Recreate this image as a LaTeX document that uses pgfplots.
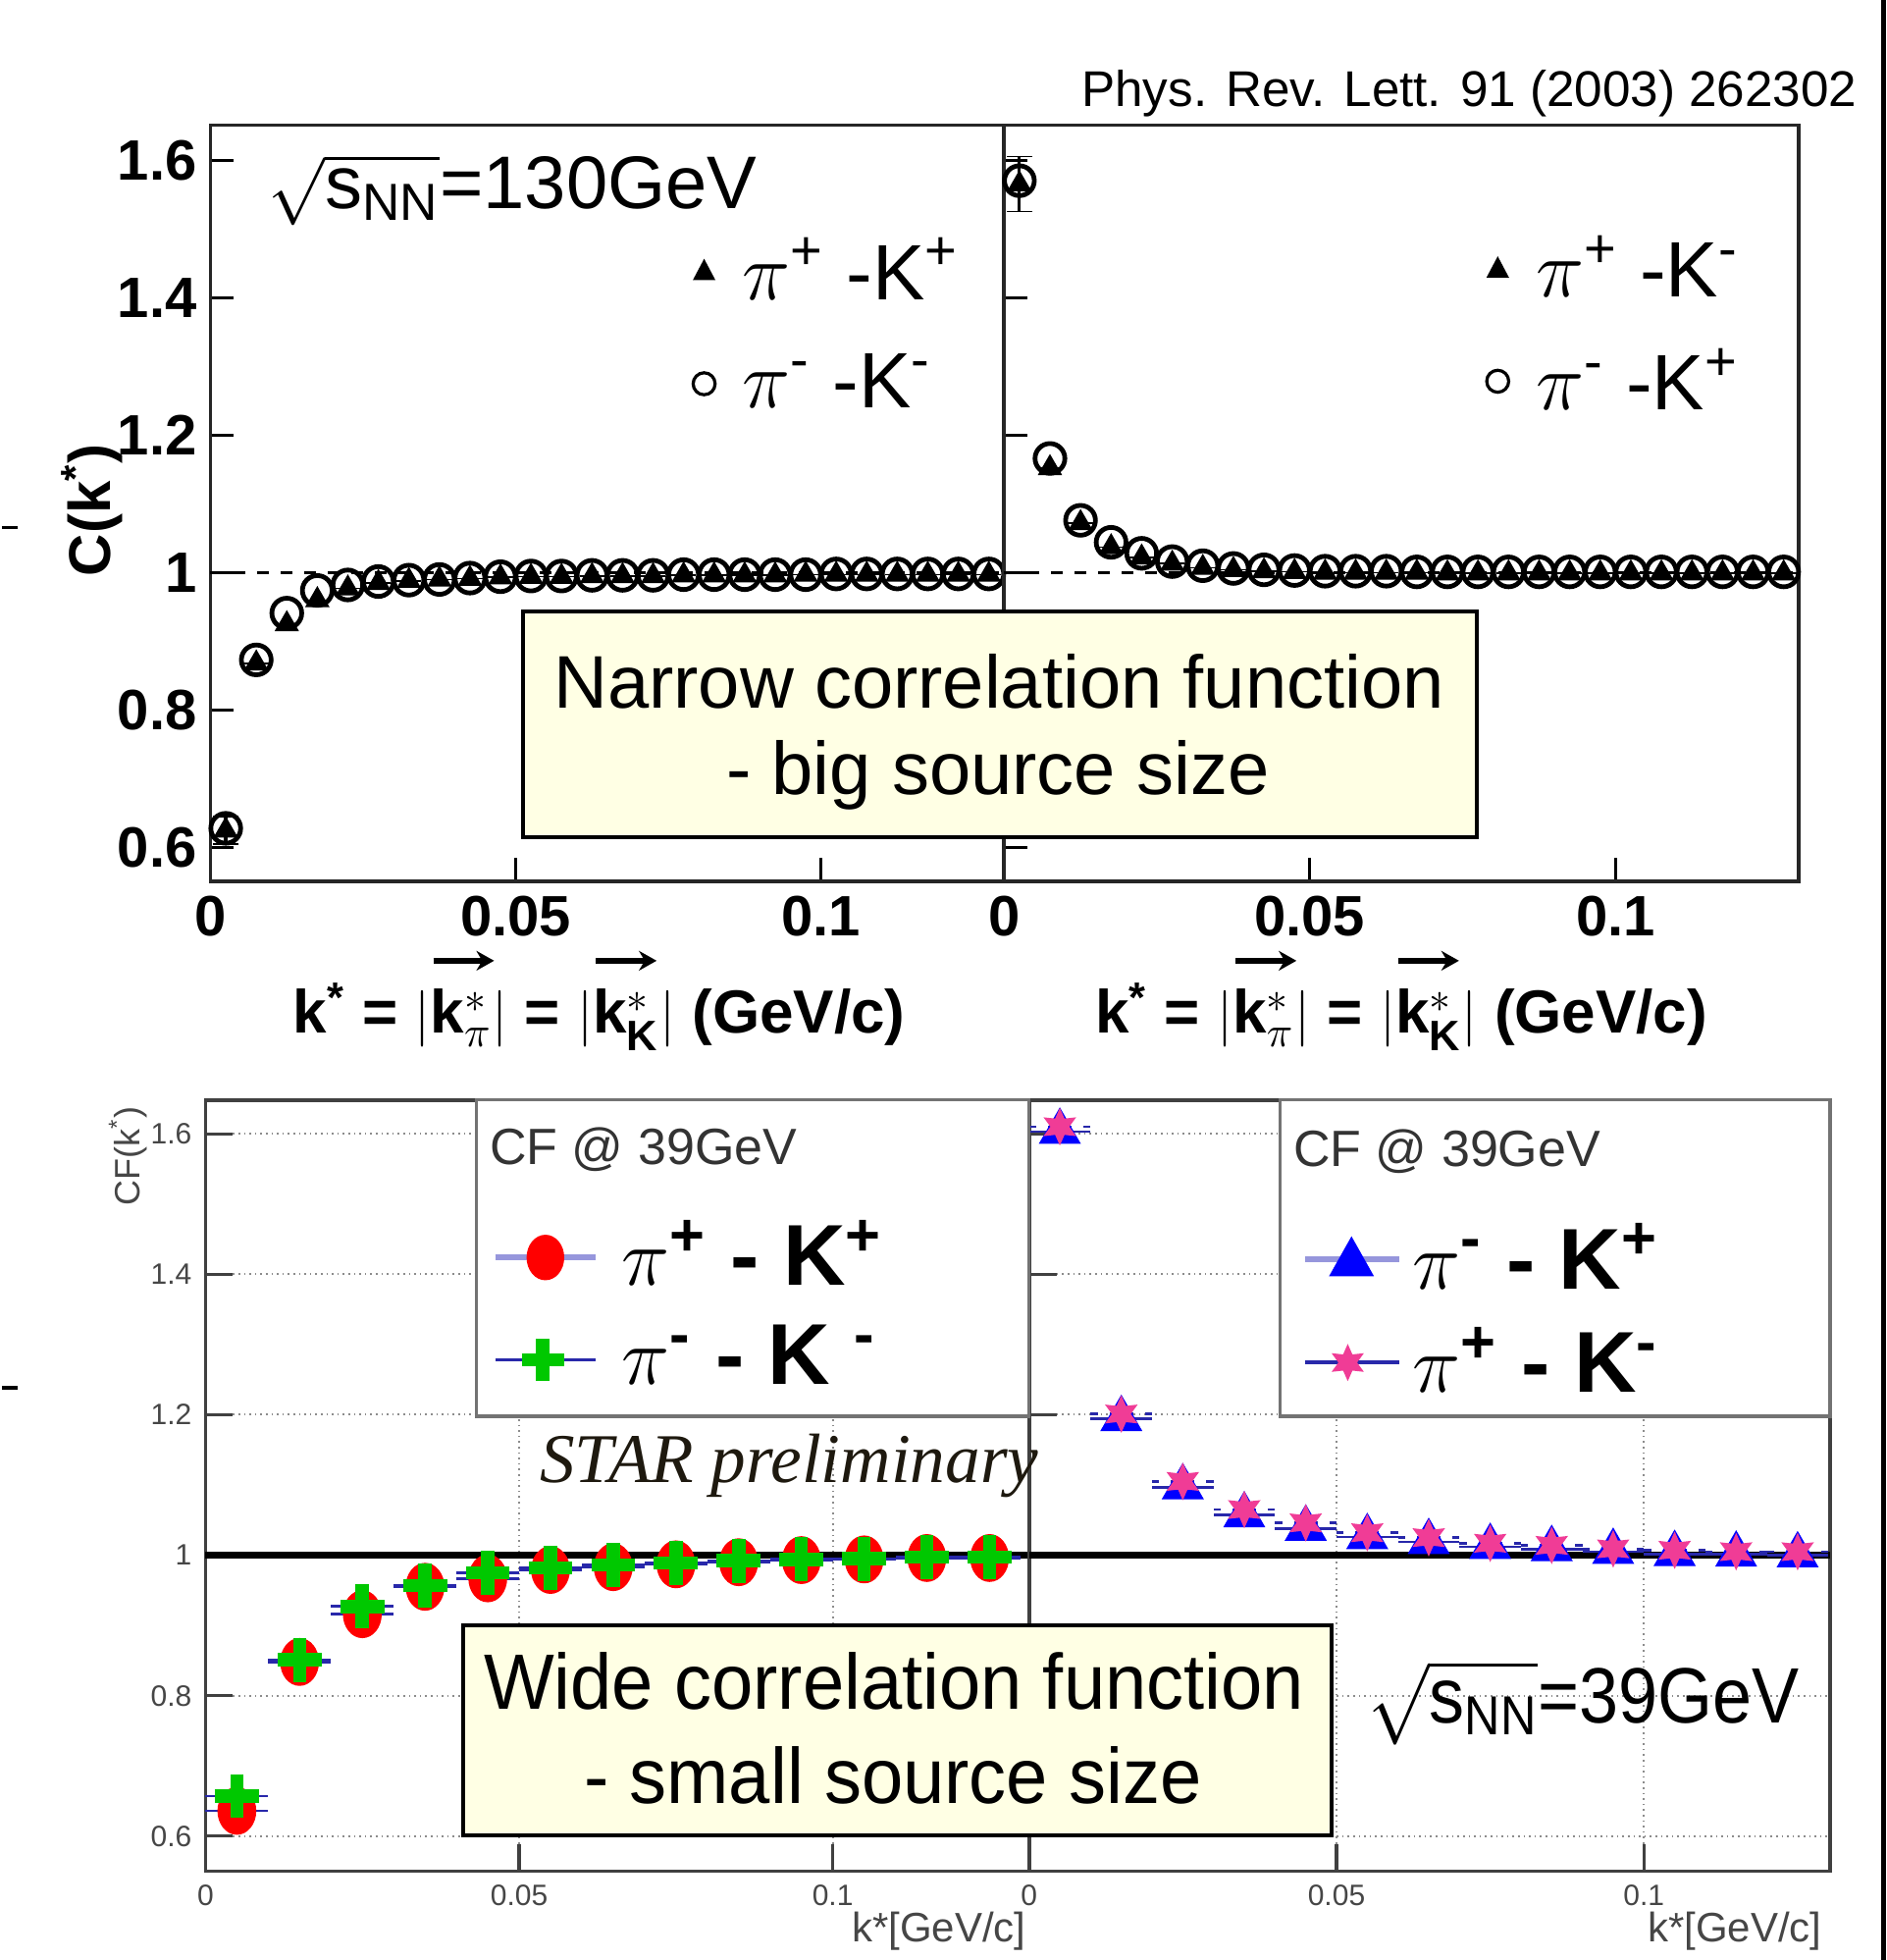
\documentclass[border=0pt]{standalone}
\usepackage{amsmath}
\usepackage{fontspec}
\setmainfont{Liberation Sans}
\newfontfamily\serifit{Liberation Serif}
\usepackage{pgfplots}
\pgfplotsset{compat=1.18}
\usetikzlibrary{shapes.geometric, arrows.meta}

\definecolor{boxyellow}{RGB}{255,255,228}
\definecolor{cfgreen}{RGB}{0,200,0}
\definecolor{cfpink}{RGB}{240,60,150}
\definecolor{legline}{RGB}{150,150,220}
\definecolor{errblue}{RGB}{40,40,170}
\definecolor{tickgray}{RGB}{70,70,70}

\pgfdeclareplotmark{hexstar}{%
  \pgfpathmoveto{\pgfpointpolar{90}{\pgfplotmarksize}}%
  \pgfpathlineto{\pgfpointpolar{120}{0.5\pgfplotmarksize}}%
  \pgfpathlineto{\pgfpointpolar{150}{\pgfplotmarksize}}%
  \pgfpathlineto{\pgfpointpolar{180}{0.5\pgfplotmarksize}}%
  \pgfpathlineto{\pgfpointpolar{210}{\pgfplotmarksize}}%
  \pgfpathlineto{\pgfpointpolar{240}{0.5\pgfplotmarksize}}%
  \pgfpathlineto{\pgfpointpolar{270}{\pgfplotmarksize}}%
  \pgfpathlineto{\pgfpointpolar{300}{0.5\pgfplotmarksize}}%
  \pgfpathlineto{\pgfpointpolar{330}{\pgfplotmarksize}}%
  \pgfpathlineto{\pgfpointpolar{0}{0.5\pgfplotmarksize}}%
  \pgfpathlineto{\pgfpointpolar{30}{\pgfplotmarksize}}%
  \pgfpathlineto{\pgfpointpolar{60}{0.5\pgfplotmarksize}}%
  \pgfpathclose\pgfusepathqfill}

\newcommand{\sps}[1]{\textsuperscript{#1}}
\newcommand{\arrowover}{\makebox[0pt][l]{\tikz[baseline=0pt]\draw[-{Stealth[length=4.5pt,width=5pt]}, line width=1.4pt] (0.05em,1.18em) -- (1.05em,1.18em);}}
\newcommand{\vk}[1]{\arrowover k$^{*}_{#1}$}

\pgfplotstableread{
x      tri    circ   err
0.0025 0.625  0.628  0.02
0.0075 0.868  0.873  0
0.0125 0.925  0.941  0
0.0175 0.960  0.974  0
0.0225 0.977  0.982  0
0.0275 0.985  0.987  0
0.0325 0.988  0.989  0
0.0375 0.990  0.990  0
0.0425 0.991  0.992  0
0.0475 0.993  0.994  0
0.0525 0.994  0.995  0
0.0575 0.994  0.995  0
0.0625 0.995  0.996  0
0.0675 0.995  0.996  0
0.0725 0.995  0.996  0
0.0775 0.996  0.997  0
0.0825 0.996  0.997  0
0.0875 0.996  0.997  0
0.0925 0.996  0.997  0
0.0975 0.997  0.997  0
0.1025 0.997  0.998  0
0.1075 0.997  0.998  0
0.1125 0.997  0.998  0
0.1175 0.997  0.998  0
0.1225 0.997  0.998  0
0.1275 0.997  0.998  0
}\topleft

\pgfplotstableread{
x      tri    circ   err
0.0025 1.565  1.570  0.04
0.0075 1.152  1.166  0
0.0125 1.072  1.076  0
0.0175 1.037  1.044  0
0.0225 1.022  1.028  0
0.0275 1.013  1.016  0
0.0325 1.007  1.010  0
0.0375 1.004  1.006  0
0.0425 1.002  1.004  0
0.0475 1.001  1.003  0
0.0525 1.000  1.002  0
0.0575 1.000  1.002  0
0.0625 1.000  1.002  0
0.0675 1.000  1.001  0
0.0725 0.999  1.001  0
0.0775 0.999  1.001  0
0.0825 0.999  1.001  0
0.0875 0.999  1.001  0
0.0925 0.999  1.001  0
0.0975 0.999  1.001  0
0.1025 0.999  1.001  0
0.1075 0.999  1.001  0
0.1125 0.999  1.001  0
0.1175 0.999  1.001  0
0.1225 0.999  1.001  0
0.1275 0.999  1.001  0
}\topright

\pgfplotstableread{
x     red    green
0.005 0.636  0.657
0.015 0.848  0.851
0.025 0.916  0.927
0.035 0.955  0.957
0.045 0.967  0.975
0.055 0.979  0.982
0.065 0.983  0.986
0.075 0.987  0.989
0.085 0.990  0.992
0.095 0.993  0.994
0.105 0.994  0.995
0.115 0.996  0.997
0.125 0.996  0.997
}\botleft

\pgfplotstableread{
x     tri    star
0.005 1.603  1.610
0.015 1.194  1.201
0.025 1.097  1.105
0.035 1.057  1.065
0.045 1.038  1.046
0.055 1.026  1.032
0.065 1.019  1.025
0.075 1.012  1.017
0.085 1.009  1.014
0.095 1.005  1.009
0.105 1.002  1.007
0.115 1.001  1.005
0.125 1.000  1.005
}\botright

\pgfplotsset{
  topstyle/.style={
    scale only axis, height=192.69pt,
    xmin=0, xmax=0.130, ymin=0.551, ymax=1.651,
    axis line style={black!85, line width=0.9pt},
    xtick={0,0.05,0.1}, xticklabels={0,0.05,0.1},
    ytick={0.6,0.8,1,1.2,1.4,1.6},
    tick align=inside, xtick pos=bottom, ytick pos=left,
    major tick length=6pt, tick style={black, line width=0.8pt},
    /pgf/number format/assume math mode=true,
    ticklabel style={font=\bfseries\fontsize{14.5}{15}\selectfont},
    xticklabel style={inner sep=0.5pt, yshift=-3pt},
    clip=false,
  },
  botstyle/.style={
    scale only axis, height=196.51pt,
    ymin=0.550, ymax=1.648,
    axis line style={black!75, line width=0.9pt},
    xtick={0,0.05,0.1}, xticklabels={0,0.05,0.1},
    ytick={0.6,0.8,1,1.2,1.4,1.6},
    grid=major, major grid style={densely dotted, black!45, line width=0.5pt},
    tick align=inside, xtick pos=bottom, ytick pos=left,
    major tick length=7pt, tick style={black!75, line width=0.8pt},
    /pgf/number format/assume math mode=true,
    ticklabel style={font=\fontsize{7.5}{8}\selectfont, text=tickgray},
    clip=false,
  },
}

\begin{document}
\begin{tikzpicture}
\begin{scope}[x=0.3185pt, y=-0.3185pt]
\path[use as bounding box] (0,0) rectangle (1508,1568);
\end{scope}

% ---------- top left
\begin{axis}[topstyle, at={(53.19pt,-224.54pt)}, anchor=south west, width=202.25pt,
  yticklabels={0.6,0.8,1,1.2,1.4,1.6}]
\addplot[black, dashed, line width=0.6pt] coordinates {(0,1) (0.130,1)};
\addplot[only marks, mark=o, mark size=3.8pt, mark options={line width=1.2pt, black}] table[x=x, y=circ] {\topleft};
\addplot[only marks, mark=triangle*, mark size=3.2pt, black,
  error bars/.cd, y dir=both, y explicit, error bar style={line width=0.8pt, black}]
  table[x=x, y=tri, y error=err] {\topleft};
\end{axis}

% ---------- top right
\begin{axis}[topstyle, at={(255.44pt,-224.54pt)}, anchor=south west, width=202.57pt,
  yticklabels={}]
\addplot[black, dashed, line width=0.6pt] coordinates {(0,1) (0.130,1)};
\addplot[only marks, mark=o, mark size=3.8pt, mark options={line width=1.2pt, black}] table[x=x, y=circ] {\topright};
\addplot[only marks, mark=triangle*, mark size=3.2pt, black,
  error bars/.cd, y dir=both, y explicit, error bar style={line width=0.8pt, black}]
  table[x=x, y=tri, y error=err] {\topright};
\end{axis}

% ---------- bottom left
\begin{axis}[botstyle, at={(51.92pt,-476.79pt)}, anchor=south west, width=209.89pt,
  xmin=0, xmax=0.1313, yticklabels={0.6,0.8,1,1.2,1.4,1.6}]
\addplot[black, line width=1.6pt] coordinates {(0,1) (0.1313,1)};
\addplot[only marks, mark=*, mark size=5pt, red, mark options={xscale=0.95, yscale=1.18},
  error bars/.cd, x dir=both, x fixed=0.005, error mark=none, error bar style={errblue, line width=0.7pt}]
  table[x=x, y=red] {\botleft};
\addplot[only marks, mark=+, mark size=5.6pt, cfgreen, mark options={line width=3.4pt},
  error bars/.cd, x dir=both, x fixed=0.005, error mark=none, error bar style={errblue, line width=0.7pt}]
  table[x=x, y=green] {\botleft};
\end{axis}

% ---------- bottom right
\begin{axis}[botstyle, at={(261.81pt,-476.79pt)}, anchor=south west, width=204.16pt,
  xmin=0, xmax=0.1303, yticklabels={}]
\addplot[black, line width=1.6pt] coordinates {(0,1) (0.1303,1)};
\addplot[only marks, mark=triangle*, mark size=5.8pt, blue,
  error bars/.cd, x dir=both, x fixed=0.005, error mark=none, error bar style={errblue, line width=0.7pt}]
  table[x=x, y=tri] {\botright};
\addplot[only marks, mark=hexstar, mark size=4.8pt, cfpink,
  error bars/.cd, x dir=both, x fixed=0.005, error mark=none, error bar style={errblue, dashed, line width=0.7pt}]
  table[x=x, y=star] {\botright};
\end{axis}

\begin{scope}[x=0.3185pt, y=-0.3185pt]
% right edge bar and left stray ticks
\fill[black] (1504,0) rectangle (1508,1568);
\draw[black, line width=0.9pt] (0,422) -- (13,422);
\draw[black, line width=0.9pt] (0,1110) -- (13,1110);

% reference
\node[anchor=east, inner sep=0pt] at (1485,75) {\fontsize{12.8}{13}\selectfont Phys. Rev. Lett. 91 (2003) 262302};

% top texts
\node[anchor=west, inner sep=0pt] at (213,152) {\fontsize{19}{19}\selectfont $\sqrt{\text{s}_{\text{NN}}}$=130GeV};
\node[rotate=90, inner sep=0pt] at (72,408) {\bfseries\fontsize{15}{15}\selectfont C(k\sps{*})};

% top legends
\fill[black] (553,224) -- (571,224) -- (562,207) -- cycle;
\draw[black, line width=0.8pt] (562,307) circle (2.8pt);
\node[anchor=west, inner sep=0pt] at (592,215) {\fontsize{20}{20}\selectfont $\pi$\sps{+} -K\sps{+}};
\node[anchor=west, inner sep=0pt] at (592,305) {\fontsize{20}{20}\selectfont $\pi$\sps{-} -K\sps{-}};
\fill[black] (1188,222) -- (1206,222) -- (1197,205) -- cycle;
\draw[black, line width=0.8pt] (1197,305) circle (2.8pt);
\node[anchor=west, inner sep=0pt] at (1227,213) {\fontsize{20}{20}\selectfont $\pi$\sps{+} -K\sps{-}};
\node[anchor=west, inner sep=0pt] at (1227,303) {\fontsize{20}{20}\selectfont $\pi$\sps{-} -K\sps{+}};

% top x labels
\node[inner sep=0pt, anchor=base] at (478,826) {\bfseries\fontsize{15.5}{16}\selectfont k\sps{*} = $|$\vk{\pi}$|$ = $|$\vk{\text{K}}$|$ (GeV/c)};
\node[inner sep=0pt, anchor=base] at (1120,826) {\bfseries\fontsize{15.5}{16}\selectfont k\sps{*} = $|$\vk{\pi}$|$ = $|$\vk{\text{K}}$|$ (GeV/c)};

% narrow box
\draw[line width=1pt, fill=boxyellow] (417,489) rectangle (1180,670);
\node at (798,545) {\fontsize{19}{19}\selectfont Narrow correlation function};
\node at (797,620) {\fontsize{19}{19}\selectfont - big source size};

% bottom labels
\node[rotate=90, inner sep=0pt, text=tickgray] at (101,925) {\fontsize{9}{9}\selectfont CF(k\sps{*})};
\node[anchor=east, inner sep=0pt, text=tickgray] at (820,1545) {\fontsize{10.5}{11}\selectfont k*[GeV/c]};
\node[anchor=east, inner sep=0pt, text=tickgray] at (1457,1545) {\fontsize{10.5}{11}\selectfont k*[GeV/c]};

% bottom legends
\draw[fill=white, draw=black!55, line width=0.8pt] (380,880) rectangle (822,1133);
\node[anchor=west, inner sep=0pt, text=black!80] at (390,920) {\fontsize{13}{13}\selectfont CF @ 39GeV};
\draw[legline, line width=1.5pt] (395,1006) -- (475,1006);
\fill[red] (435,1006) ellipse (4.8pt and 5.8pt);
\node[anchor=west, inner sep=0pt] at (495,1002) {\bfseries\fontsize{22}{22}\selectfont $\pi$\sps{+} - K\sps{+}};
\draw[errblue, line width=0.9pt] (395,1088) -- (475,1088);
\draw[cfgreen, line width=3.4pt] (416,1088) -- (450,1088) (433,1071) -- (433,1105);
\node[anchor=west, inner sep=0pt] at (495,1084) {\bfseries\fontsize{22}{22}\selectfont $\pi$\sps{-} - K \sps{-}};

\draw[fill=white, draw=black!55, line width=0.8pt] (1023,880) rectangle (1463,1133);
\node[anchor=west, inner sep=0pt, text=black!80] at (1033,921) {\fontsize{13}{13}\selectfont CF @ 39GeV};
\draw[legline, line width=1.5pt] (1043,1007) -- (1118,1007);
\fill[blue] (1062,1021) -- (1098,1021) -- (1080,989) -- cycle;
\node[anchor=west, inner sep=0pt] at (1128,1005) {\bfseries\fontsize{22}{22}\selectfont $\pi$\sps{-} - K\sps{+}};
\draw[errblue, line width=0.9pt] (1043,1090) -- (1118,1090);
\node[star, star points=6, star point ratio=2, fill=cfpink, inner sep=0pt, minimum size=9.5pt] at (1077,1090) {};
\node[anchor=west, inner sep=0pt] at (1128,1088) {\bfseries\fontsize{22}{22}\selectfont $\pi$\sps{+} - K\sps{-}};

% STAR preliminary
\node[anchor=west, inner sep=0pt, text={rgb,255:red,30;green,25;blue,15}] at (430,1173) {\serifit\itshape\fontsize{17.8}{18}\selectfont STAR preliminary};

% wide box
\draw[line width=1pt, fill=boxyellow] (369,1300) rectangle (1064,1468);
\node at (714,1345) {\scalebox{0.95}[1]{\fontsize{20}{20}\selectfont Wide correlation function}};
\node at (713,1420) {\scalebox{0.95}[1]{\fontsize{20}{20}\selectfont - small source size}};

% sqrt 39
\node[anchor=west, inner sep=0pt] at (1093,1362) {\scalebox{0.9}[1]{\fontsize{20}{20}\selectfont $\sqrt{\text{s}_{\text{NN}}}$=39GeV}};
\end{scope}
\end{tikzpicture}
\end{document}
